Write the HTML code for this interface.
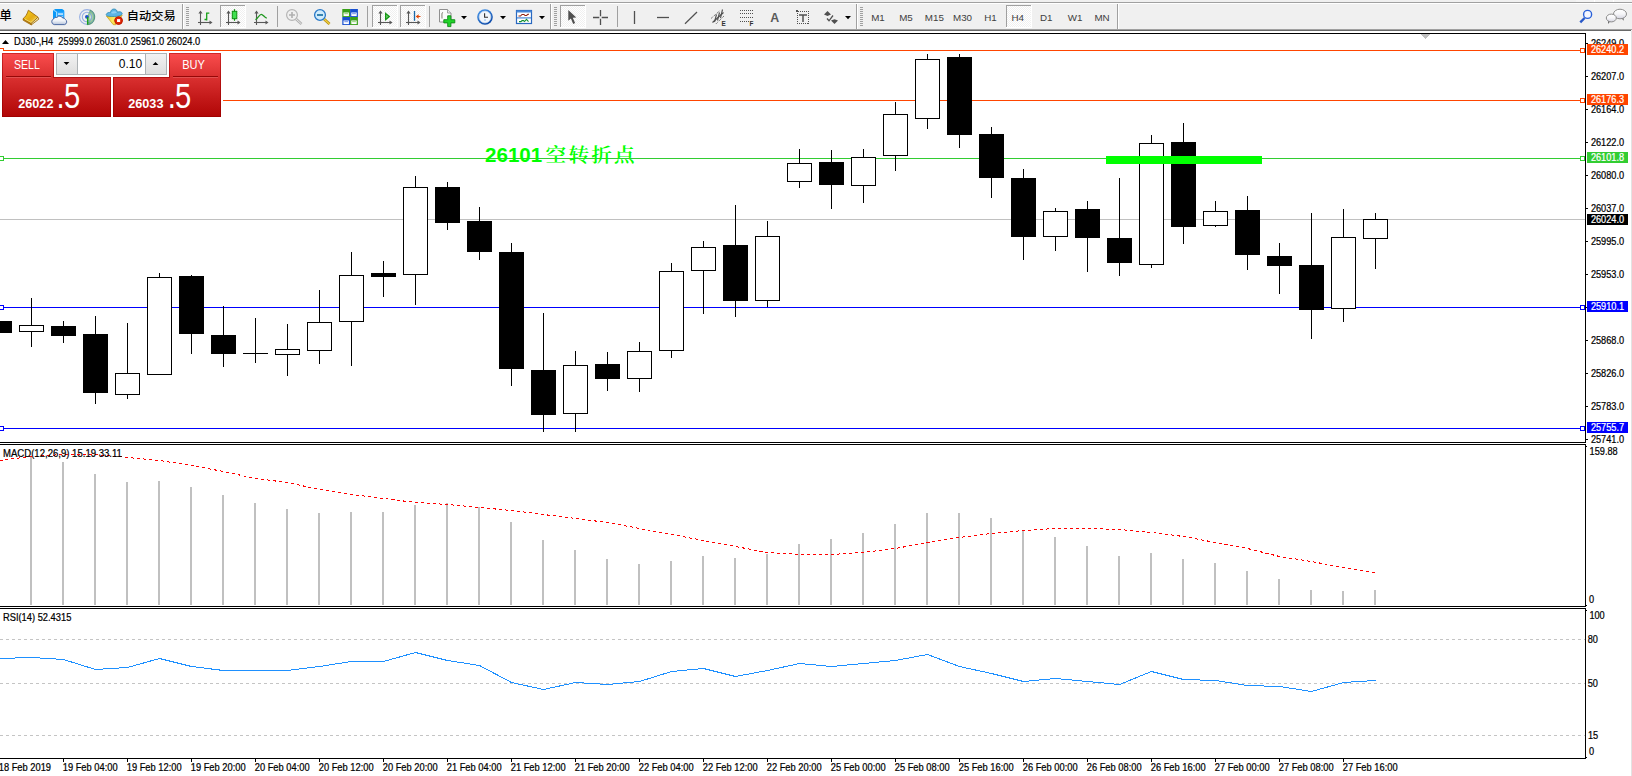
<!DOCTYPE html>
<html><head><meta charset="utf-8"><title>DJ30-,H4</title>
<style>
html,body{margin:0;padding:0;background:#fff}
body{width:1632px;height:776px;overflow:hidden;position:relative;font-family:"Liberation Sans","Noto Sans CJK SC",sans-serif}
svg{position:absolute;left:0;top:0;display:block}
text{font-family:"Liberation Sans","Noto Sans CJK SC",sans-serif;white-space:pre}
.ax{font-size:10.15px;fill:#000;stroke:#000;stroke-width:0.22px}
.axw{font-size:10.15px;fill:#fff;stroke:#fff;stroke-width:0.22px}
.tf{font-size:9.8px;fill:#404040}
.ic{shape-rendering:geometricPrecision}
</style></head><body>
<svg width="1632" height="776" viewBox="0 0 1632 776" shape-rendering="crispEdges">
<defs>
<pattern id="dither" width="2" height="2" patternUnits="userSpaceOnUse"><rect width="2" height="2" fill="#ffffff"/><rect width="1" height="1" fill="#f0f0f0"/><rect x="1" y="1" width="1" height="1" fill="#f0f0f0"/></pattern>
</defs>
<rect x="0" y="0" width="1632" height="776" fill="#ffffff" />
<g id="main">
<rect x="0" y="50" width="1585" height="1" fill="#ff4500" />
<rect x="0" y="100" width="1585" height="1" fill="#ff4500" />
<rect x="0" y="158" width="1585" height="1" fill="#32cd32" />
<rect x="0" y="219" width="1585" height="1" fill="#c0c0c0" />
<rect x="0" y="307" width="1585" height="1" fill="#0000ff" />
<rect x="0" y="428" width="1585" height="1" fill="#0000ff" />
<rect x="-13" y="321" width="25" height="12" fill="#000" />
<rect x="31" y="298" width="1" height="49" fill="#000" />
<rect x="19" y="325" width="25" height="7" fill="#000" />
<rect x="20" y="326" width="23" height="5" fill="#fff" />
<rect x="63" y="321" width="1" height="22" fill="#000" />
<rect x="51" y="326" width="25" height="10" fill="#000" />
<rect x="95" y="316" width="1" height="88" fill="#000" />
<rect x="83" y="334" width="25" height="59" fill="#000" />
<rect x="127" y="323" width="1" height="76" fill="#000" />
<rect x="115" y="373" width="25" height="22" fill="#000" />
<rect x="116" y="374" width="23" height="20" fill="#fff" />
<rect x="159" y="273" width="1" height="102" fill="#000" />
<rect x="147" y="277" width="25" height="98" fill="#000" />
<rect x="148" y="278" width="23" height="96" fill="#fff" />
<rect x="191" y="275" width="1" height="79" fill="#000" />
<rect x="179" y="276" width="25" height="58" fill="#000" />
<rect x="223" y="306" width="1" height="61" fill="#000" />
<rect x="211" y="335" width="25" height="19" fill="#000" />
<rect x="255" y="318" width="1" height="45" fill="#000" />
<rect x="243" y="353" width="25" height="1" fill="#000" />
<rect x="287" y="324" width="1" height="52" fill="#000" />
<rect x="275" y="349" width="25" height="6" fill="#000" />
<rect x="276" y="350" width="23" height="4" fill="#fff" />
<rect x="319" y="290" width="1" height="74" fill="#000" />
<rect x="307" y="322" width="25" height="29" fill="#000" />
<rect x="308" y="323" width="23" height="27" fill="#fff" />
<rect x="351" y="252" width="1" height="114" fill="#000" />
<rect x="339" y="275" width="25" height="47" fill="#000" />
<rect x="340" y="276" width="23" height="45" fill="#fff" />
<rect x="383" y="261" width="1" height="36" fill="#000" />
<rect x="371" y="273" width="25" height="4" fill="#000" />
<rect x="415" y="176" width="1" height="129" fill="#000" />
<rect x="403" y="187" width="25" height="88" fill="#000" />
<rect x="404" y="188" width="23" height="86" fill="#fff" />
<rect x="447" y="182" width="1" height="48" fill="#000" />
<rect x="435" y="187" width="25" height="36" fill="#000" />
<rect x="479" y="207" width="1" height="53" fill="#000" />
<rect x="467" y="221" width="25" height="31" fill="#000" />
<rect x="511" y="243" width="1" height="143" fill="#000" />
<rect x="499" y="252" width="25" height="117" fill="#000" />
<rect x="543" y="313" width="1" height="119" fill="#000" />
<rect x="531" y="370" width="25" height="45" fill="#000" />
<rect x="575" y="351" width="1" height="81" fill="#000" />
<rect x="563" y="365" width="25" height="49" fill="#000" />
<rect x="564" y="366" width="23" height="47" fill="#fff" />
<rect x="607" y="352" width="1" height="39" fill="#000" />
<rect x="595" y="364" width="25" height="15" fill="#000" />
<rect x="639" y="342" width="1" height="50" fill="#000" />
<rect x="627" y="351" width="25" height="28" fill="#000" />
<rect x="628" y="352" width="23" height="26" fill="#fff" />
<rect x="671" y="263" width="1" height="95" fill="#000" />
<rect x="659" y="271" width="25" height="80" fill="#000" />
<rect x="660" y="272" width="23" height="78" fill="#fff" />
<rect x="703" y="241" width="1" height="73" fill="#000" />
<rect x="691" y="247" width="25" height="24" fill="#000" />
<rect x="692" y="248" width="23" height="22" fill="#fff" />
<rect x="735" y="205" width="1" height="112" fill="#000" />
<rect x="723" y="245" width="25" height="56" fill="#000" />
<rect x="767" y="221" width="1" height="86" fill="#000" />
<rect x="755" y="236" width="25" height="65" fill="#000" />
<rect x="756" y="237" width="23" height="63" fill="#fff" />
<rect x="799" y="149" width="1" height="39" fill="#000" />
<rect x="787" y="163" width="25" height="19" fill="#000" />
<rect x="788" y="164" width="23" height="17" fill="#fff" />
<rect x="831" y="150" width="1" height="59" fill="#000" />
<rect x="819" y="162" width="25" height="23" fill="#000" />
<rect x="863" y="149" width="1" height="54" fill="#000" />
<rect x="851" y="157" width="25" height="29" fill="#000" />
<rect x="852" y="158" width="23" height="27" fill="#fff" />
<rect x="895" y="102" width="1" height="69" fill="#000" />
<rect x="883" y="114" width="25" height="42" fill="#000" />
<rect x="884" y="115" width="23" height="40" fill="#fff" />
<rect x="927" y="54" width="1" height="75" fill="#000" />
<rect x="915" y="59" width="25" height="60" fill="#000" />
<rect x="916" y="60" width="23" height="58" fill="#fff" />
<rect x="959" y="54" width="1" height="94" fill="#000" />
<rect x="947" y="57" width="25" height="78" fill="#000" />
<rect x="991" y="127" width="1" height="71" fill="#000" />
<rect x="979" y="134" width="25" height="44" fill="#000" />
<rect x="1023" y="169" width="1" height="91" fill="#000" />
<rect x="1011" y="178" width="25" height="59" fill="#000" />
<rect x="1055" y="208" width="1" height="43" fill="#000" />
<rect x="1043" y="211" width="25" height="26" fill="#000" />
<rect x="1044" y="212" width="23" height="24" fill="#fff" />
<rect x="1087" y="201" width="1" height="71" fill="#000" />
<rect x="1075" y="209" width="25" height="29" fill="#000" />
<rect x="1119" y="178" width="1" height="98" fill="#000" />
<rect x="1107" y="238" width="25" height="25" fill="#000" />
<rect x="1151" y="135" width="1" height="133" fill="#000" />
<rect x="1139" y="143" width="25" height="122" fill="#000" />
<rect x="1140" y="144" width="23" height="120" fill="#fff" />
<rect x="1183" y="123" width="1" height="121" fill="#000" />
<rect x="1171" y="142" width="25" height="85" fill="#000" />
<rect x="1215" y="201" width="1" height="26" fill="#000" />
<rect x="1203" y="211" width="25" height="15" fill="#000" />
<rect x="1204" y="212" width="23" height="13" fill="#fff" />
<rect x="1247" y="196" width="1" height="74" fill="#000" />
<rect x="1235" y="210" width="25" height="45" fill="#000" />
<rect x="1279" y="243" width="1" height="51" fill="#000" />
<rect x="1267" y="256" width="25" height="10" fill="#000" />
<rect x="1311" y="213" width="1" height="126" fill="#000" />
<rect x="1299" y="265" width="25" height="45" fill="#000" />
<rect x="1343" y="209" width="1" height="113" fill="#000" />
<rect x="1331" y="237" width="25" height="72" fill="#000" />
<rect x="1332" y="238" width="23" height="70" fill="#fff" />
<rect x="1375" y="213" width="1" height="56" fill="#000" />
<rect x="1363" y="219" width="25" height="20" fill="#000" />
<rect x="1364" y="220" width="23" height="18" fill="#fff" />
<rect x="1106" y="156" width="156" height="8" fill="#00ff00" />
<rect x="-0.5" y="48.5" width="4" height="4" fill="#fff" stroke="#ff4500" stroke-width="1"/>
<rect x="1580.5" y="48.5" width="4" height="4" fill="#fff" stroke="#ff4500" stroke-width="1"/>
<rect x="-0.5" y="98.5" width="4" height="4" fill="#fff" stroke="#ff4500" stroke-width="1"/>
<rect x="1580.5" y="98.5" width="4" height="4" fill="#fff" stroke="#ff4500" stroke-width="1"/>
<rect x="-0.5" y="156.5" width="4" height="4" fill="#fff" stroke="#32cd32" stroke-width="1"/>
<rect x="1580.5" y="156.5" width="4" height="4" fill="#fff" stroke="#32cd32" stroke-width="1"/>
<rect x="-0.5" y="305.5" width="4" height="4" fill="#fff" stroke="#0000ff" stroke-width="1"/>
<rect x="1580.5" y="305.5" width="4" height="4" fill="#fff" stroke="#0000ff" stroke-width="1"/>
<rect x="-0.5" y="426.5" width="4" height="4" fill="#fff" stroke="#0000ff" stroke-width="1"/>
<rect x="1580.5" y="426.5" width="4" height="4" fill="#fff" stroke="#0000ff" stroke-width="1"/>
<text x="485" y="162" font-size="20.6px" font-weight="bold" fill="#00ff00">26101</text>
<text transform="translate(545.6 162.3) scale(1.034 0.955)" font-size="20px" font-weight="600" letter-spacing="2.1px" fill="#00ff00" style="font-family:'Noto Serif CJK SC','Liberation Serif',serif">空转折点</text>
</g>
<g id="macd">
<rect x="30" y="457" width="2" height="148" fill="#c0c0c0" />
<rect x="62" y="462" width="2" height="143" fill="#c0c0c0" />
<rect x="94" y="474" width="2" height="131" fill="#c0c0c0" />
<rect x="126" y="482" width="2" height="123" fill="#c0c0c0" />
<rect x="158" y="481" width="2" height="124" fill="#c0c0c0" />
<rect x="190" y="487" width="2" height="118" fill="#c0c0c0" />
<rect x="222" y="495" width="2" height="110" fill="#c0c0c0" />
<rect x="254" y="503" width="2" height="102" fill="#c0c0c0" />
<rect x="286" y="509" width="2" height="96" fill="#c0c0c0" />
<rect x="318" y="513" width="2" height="92" fill="#c0c0c0" />
<rect x="350" y="512" width="2" height="93" fill="#c0c0c0" />
<rect x="382" y="512" width="2" height="93" fill="#c0c0c0" />
<rect x="414" y="505" width="2" height="100" fill="#c0c0c0" />
<rect x="446" y="503" width="2" height="102" fill="#c0c0c0" />
<rect x="478" y="507" width="2" height="98" fill="#c0c0c0" />
<rect x="510" y="522" width="2" height="83" fill="#c0c0c0" />
<rect x="542" y="540" width="2" height="65" fill="#c0c0c0" />
<rect x="574" y="550" width="2" height="55" fill="#c0c0c0" />
<rect x="606" y="559" width="2" height="46" fill="#c0c0c0" />
<rect x="638" y="564" width="2" height="41" fill="#c0c0c0" />
<rect x="670" y="561" width="2" height="44" fill="#c0c0c0" />
<rect x="702" y="556" width="2" height="49" fill="#c0c0c0" />
<rect x="734" y="558" width="2" height="47" fill="#c0c0c0" />
<rect x="766" y="554" width="2" height="51" fill="#c0c0c0" />
<rect x="798" y="544" width="2" height="61" fill="#c0c0c0" />
<rect x="830" y="539" width="2" height="66" fill="#c0c0c0" />
<rect x="862" y="533" width="2" height="72" fill="#c0c0c0" />
<rect x="894" y="524" width="2" height="81" fill="#c0c0c0" />
<rect x="926" y="513" width="2" height="92" fill="#c0c0c0" />
<rect x="958" y="513" width="2" height="92" fill="#c0c0c0" />
<rect x="990" y="518" width="2" height="87" fill="#c0c0c0" />
<rect x="1022" y="530" width="2" height="75" fill="#c0c0c0" />
<rect x="1054" y="537" width="2" height="68" fill="#c0c0c0" />
<rect x="1086" y="546" width="2" height="59" fill="#c0c0c0" />
<rect x="1118" y="556" width="2" height="49" fill="#c0c0c0" />
<rect x="1150" y="553" width="2" height="52" fill="#c0c0c0" />
<rect x="1182" y="559" width="2" height="46" fill="#c0c0c0" />
<rect x="1214" y="563" width="2" height="42" fill="#c0c0c0" />
<rect x="1246" y="571" width="2" height="34" fill="#c0c0c0" />
<rect x="1278" y="579" width="2" height="26" fill="#c0c0c0" />
<rect x="1310" y="590" width="2" height="15" fill="#c0c0c0" />
<rect x="1342" y="591" width="2" height="14" fill="#c0c0c0" />
<rect x="1374" y="590" width="2" height="15" fill="#c0c0c0" />
<polyline points="-0.5,460.5 31.5,456.5 63.5,454.5 95.5,454.5 127.5,457.5 159.5,460.5 191.5,465.5 223.5,471.5 255.5,478.5 287.5,482.5 319.5,489.5 351.5,494.5 383.5,498.5 415.5,502.5 447.5,504.5 479.5,507.5 511.5,510.5 543.5,514.5 575.5,518.5 607.5,522.5 639.5,528.5 671.5,534.5 703.5,540.5 735.5,546.5 767.5,552.5 799.5,554.5 831.5,554.5 863.5,552.5 895.5,548.5 927.5,542.5 959.5,537.5 991.5,533.5 1023.5,530.5 1055.5,528.5 1087.5,528.5 1119.5,529.5 1151.5,532.5 1183.5,536.5 1215.5,542.5 1247.5,548.5 1279.5,556.5 1311.5,561.5 1343.5,567.5 1375.5,572.5" fill="none" stroke="#ff0000" stroke-width="1" stroke-dasharray="3 3" shape-rendering="crispEdges"/>
</g>
<g id="rsi">
<line x1="0" y1="639.5" x2="1585" y2="639.5" stroke="#c4c4c4" stroke-width="1" stroke-dasharray="3 3"/>
<line x1="0" y1="683.5" x2="1585" y2="683.5" stroke="#c4c4c4" stroke-width="1" stroke-dasharray="3 3"/>
<line x1="0" y1="735.5" x2="1585" y2="735.5" stroke="#c4c4c4" stroke-width="1" stroke-dasharray="3 3"/>
<polyline points="-0.5,658.5 31.5,657.5 63.5,659.5 95.5,669.5 127.5,667.5 159.5,658.5 191.5,666.5 223.5,670.5 255.5,670.5 287.5,670.5 319.5,666.5 351.5,661.5 383.5,661.5 415.5,652.5 447.5,660.5 479.5,665.5 511.5,682.5 543.5,689.5 575.5,682.5 607.5,684.5 639.5,681.5 671.5,671.5 703.5,668.5 735.5,676.5 767.5,670.5 799.5,663.5 831.5,666.5 863.5,663.5 895.5,660.5 927.5,654.5 959.5,666.5 991.5,673.5 1023.5,681.5 1055.5,678.5 1087.5,681.5 1119.5,684.5 1151.5,671.5 1183.5,679.5 1215.5,680.5 1247.5,685.5 1279.5,686.5 1311.5,691.5 1343.5,682.5 1375.5,680.5" fill="none" stroke="#1e90ff" stroke-width="1" shape-rendering="crispEdges"/>
</g>
<rect x="0" y="33" width="1586" height="1" fill="#000" />
<rect x="1585" y="33" width="1" height="726" fill="#000" />
<rect x="0" y="442" width="1586" height="1" fill="#000" />
<rect x="0" y="444" width="1586" height="1" fill="#000" />
<rect x="0" y="606" width="1586" height="1" fill="#000" />
<rect x="0" y="608" width="1586" height="1" fill="#000" />
<rect x="0" y="758" width="1586" height="1" fill="#000" />
<rect x="0" y="443" width="1632" height="1" fill="#fff" />
<rect x="0" y="607" width="1632" height="1" fill="#fff" />
<rect x="1585" y="443" width="1" height="1" fill="#fff" />
<rect x="1585" y="607" width="1" height="1" fill="#fff" />
<rect x="1586" y="43" width="2" height="1" fill="#000" />
<text class="ax" transform="translate(1590.9 47.2) scale(0.905 1)">26249.0</text>
<rect x="1586" y="76" width="2" height="1" fill="#000" />
<text class="ax" transform="translate(1590.9 80.2) scale(0.905 1)">26207.0</text>
<rect x="1586" y="109" width="2" height="1" fill="#000" />
<text class="ax" transform="translate(1590.9 113.2) scale(0.905 1)">26164.0</text>
<rect x="1586" y="142" width="2" height="1" fill="#000" />
<text class="ax" transform="translate(1590.9 146.2) scale(0.905 1)">26122.0</text>
<rect x="1586" y="175" width="2" height="1" fill="#000" />
<text class="ax" transform="translate(1590.9 179.2) scale(0.905 1)">26080.0</text>
<rect x="1586" y="208" width="2" height="1" fill="#000" />
<text class="ax" transform="translate(1590.9 212.2) scale(0.905 1)">26037.0</text>
<rect x="1586" y="241" width="2" height="1" fill="#000" />
<text class="ax" transform="translate(1590.9 245.2) scale(0.905 1)">25995.0</text>
<rect x="1586" y="274" width="2" height="1" fill="#000" />
<text class="ax" transform="translate(1590.9 278.2) scale(0.905 1)">25953.0</text>
<rect x="1586" y="307" width="2" height="1" fill="#000" />
<text class="ax" transform="translate(1590.9 311.2) scale(0.905 1)">25910.0</text>
<rect x="1586" y="340" width="2" height="1" fill="#000" />
<text class="ax" transform="translate(1590.9 344.2) scale(0.905 1)">25868.0</text>
<rect x="1586" y="373" width="2" height="1" fill="#000" />
<text class="ax" transform="translate(1590.9 377.2) scale(0.905 1)">25826.0</text>
<rect x="1586" y="406" width="2" height="1" fill="#000" />
<text class="ax" transform="translate(1590.9 410.2) scale(0.905 1)">25783.0</text>
<rect x="1586" y="439" width="2" height="1" fill="#000" />
<text class="ax" transform="translate(1590.9 443.2) scale(0.905 1)">25741.0</text>
<rect x="1587" y="44" width="41" height="11" fill="#ff4500" />
<text class="axw" transform="translate(1590.9 53.2) scale(0.905 1)">26240.2</text>
<rect x="1587" y="94" width="41" height="11" fill="#ff4500" />
<text class="axw" transform="translate(1590.9 103.2) scale(0.905 1)">26176.3</text>
<rect x="1587" y="152" width="41" height="11" fill="#32cd32" />
<text class="axw" transform="translate(1590.9 161.2) scale(0.905 1)">26101.8</text>
<rect x="1587" y="301" width="41" height="11" fill="#0000ff" />
<text class="axw" transform="translate(1590.9 310.2) scale(0.905 1)">25910.1</text>
<rect x="1587" y="422" width="41" height="11" fill="#0000ff" />
<text class="axw" transform="translate(1590.9 431.2) scale(0.905 1)">25755.7</text>
<rect x="1587" y="214" width="41" height="11" fill="#000" />
<text class="axw" transform="translate(1590.9 223.2) scale(0.905 1)">26024.0</text>
<rect x="1586" y="446" width="1" height="1" fill="#000" />
<rect x="1586" y="605" width="1" height="1" fill="#000" />
<rect x="1586" y="610" width="1" height="1" fill="#000" />
<rect x="1586" y="757" width="1" height="1" fill="#000" />
<text class="ax" transform="translate(1589.6 455) scale(0.905 1)">159.88</text>
<text class="ax" transform="translate(1589.1 603.1) scale(0.905 1)">0</text>
<text class="ax" transform="translate(1589.4 619.0) scale(0.905 1)">100</text>
<text class="ax" transform="translate(1587.7 643.0) scale(0.905 1)">80</text>
<text class="ax" transform="translate(1587.7 687.0) scale(0.905 1)">50</text>
<text class="ax" transform="translate(1587.9 739.0) scale(0.905 1)">15</text>
<text class="ax" transform="translate(1589.1 755.0) scale(0.905 1)">0</text>
<rect x="-1" y="759" width="1" height="3" fill="#000" />
<text class="ax" transform="translate(-1.3 771) scale(0.918 1)">18 Feb 2019</text>
<rect x="63" y="759" width="1" height="3" fill="#000" />
<text class="ax" transform="translate(62.7 771) scale(0.918 1)">19 Feb 04:00</text>
<rect x="127" y="759" width="1" height="3" fill="#000" />
<text class="ax" transform="translate(126.7 771) scale(0.918 1)">19 Feb 12:00</text>
<rect x="191" y="759" width="1" height="3" fill="#000" />
<text class="ax" transform="translate(190.7 771) scale(0.918 1)">19 Feb 20:00</text>
<rect x="255" y="759" width="1" height="3" fill="#000" />
<text class="ax" transform="translate(254.7 771) scale(0.918 1)">20 Feb 04:00</text>
<rect x="319" y="759" width="1" height="3" fill="#000" />
<text class="ax" transform="translate(318.7 771) scale(0.918 1)">20 Feb 12:00</text>
<rect x="383" y="759" width="1" height="3" fill="#000" />
<text class="ax" transform="translate(382.7 771) scale(0.918 1)">20 Feb 20:00</text>
<rect x="447" y="759" width="1" height="3" fill="#000" />
<text class="ax" transform="translate(446.7 771) scale(0.918 1)">21 Feb 04:00</text>
<rect x="511" y="759" width="1" height="3" fill="#000" />
<text class="ax" transform="translate(510.7 771) scale(0.918 1)">21 Feb 12:00</text>
<rect x="575" y="759" width="1" height="3" fill="#000" />
<text class="ax" transform="translate(574.7 771) scale(0.918 1)">21 Feb 20:00</text>
<rect x="639" y="759" width="1" height="3" fill="#000" />
<text class="ax" transform="translate(638.7 771) scale(0.918 1)">22 Feb 04:00</text>
<rect x="703" y="759" width="1" height="3" fill="#000" />
<text class="ax" transform="translate(702.7 771) scale(0.918 1)">22 Feb 12:00</text>
<rect x="767" y="759" width="1" height="3" fill="#000" />
<text class="ax" transform="translate(766.7 771) scale(0.918 1)">22 Feb 20:00</text>
<rect x="831" y="759" width="1" height="3" fill="#000" />
<text class="ax" transform="translate(830.7 771) scale(0.918 1)">25 Feb 00:00</text>
<rect x="895" y="759" width="1" height="3" fill="#000" />
<text class="ax" transform="translate(894.7 771) scale(0.918 1)">25 Feb 08:00</text>
<rect x="959" y="759" width="1" height="3" fill="#000" />
<text class="ax" transform="translate(958.7 771) scale(0.918 1)">25 Feb 16:00</text>
<rect x="1023" y="759" width="1" height="3" fill="#000" />
<text class="ax" transform="translate(1022.7 771) scale(0.918 1)">26 Feb 00:00</text>
<rect x="1087" y="759" width="1" height="3" fill="#000" />
<text class="ax" transform="translate(1086.7 771) scale(0.918 1)">26 Feb 08:00</text>
<rect x="1151" y="759" width="1" height="3" fill="#000" />
<text class="ax" transform="translate(1150.7 771) scale(0.918 1)">26 Feb 16:00</text>
<rect x="1215" y="759" width="1" height="3" fill="#000" />
<text class="ax" transform="translate(1214.7 771) scale(0.918 1)">27 Feb 00:00</text>
<rect x="1279" y="759" width="1" height="3" fill="#000" />
<text class="ax" transform="translate(1278.7 771) scale(0.918 1)">27 Feb 08:00</text>
<rect x="1343" y="759" width="1" height="3" fill="#000" />
<text class="ax" transform="translate(1342.7 771) scale(0.918 1)">27 Feb 16:00</text>
<rect x="1421" y="34" width="9" height="1" fill="#c0c0c0" />
<rect x="1422" y="35" width="7" height="1" fill="#c0c0c0" />
<rect x="1423" y="36" width="5" height="1" fill="#c0c0c0" />
<rect x="1424" y="37" width="3" height="1" fill="#c0c0c0" />
<rect x="1425" y="38" width="1" height="1" fill="#c0c0c0" />
<path d="M2 44 L5.5 40 L9 44 Z" fill="#000" class="ic"/>
<text class="ax" transform="translate(14.0 45) scale(0.915 1)">DJ30-,H4  25999.0 26031.0 25961.0 26024.0</text>
<text class="ax" transform="translate(3.0 457) scale(0.943 1)">MACD(12,26,9) 15.19 33.11</text>
<text class="ax" transform="translate(3.0 621) scale(0.918 1)">RSI(14) 52.4315</text>
<g id="panel">
<rect x="0" y="51" width="223" height="67" fill="#fff" />
<rect x="0" y="48" width="4" height="1" fill="#ff4500" />
<rect x="3" y="48" width="1" height="3" fill="#ff4500" />
<linearGradient id="rg2" gradientUnits="userSpaceOnUse" x1="0" y1="53" x2="0" y2="117"><stop offset="0" stop-color="#fa4e4e"/><stop offset="0.38" stop-color="#da3030"/><stop offset="0.75" stop-color="#c01616"/><stop offset="1" stop-color="#b00606"/></linearGradient>
<linearGradient id="rb2" gradientUnits="userSpaceOnUse" x1="0" y1="53" x2="0" y2="117"><stop offset="0" stop-color="#d02828"/><stop offset="0.4" stop-color="#b41010"/><stop offset="1" stop-color="#a00000"/></linearGradient>
<path d="M2.5 53.5 H53.5 V77.5 H110.5 V116.5 H2.5 Z" fill="url(#rg2)" stroke="url(#rb2)" stroke-width="1"/>
<path d="M113.5 77.5 H169.5 V53.5 H220.5 V116.5 H113.5 Z" fill="url(#rg2)" stroke="url(#rb2)" stroke-width="1"/>
<rect x="6" y="76" width="45" height="1" fill="#960808" />
<rect x="6" y="77" width="45" height="1" fill="#e25050" />
<rect x="173" y="76" width="45" height="1" fill="#960808" />
<rect x="173" y="77" width="45" height="1" fill="#e25050" />
<text transform="translate(14.0 69) scale(0.86 1)" font-size="12.3px" fill="#fff">SELL</text>
<text transform="translate(182.2 69) scale(0.9 1)" font-size="12.3px" fill="#fff">BUY</text>
<text x="18.2" y="107.8" font-size="12.7px" font-weight="bold" fill="#fff">26022</text>
<text x="128.2" y="107.8" font-size="12.7px" font-weight="bold" fill="#fff">26033</text>
<text transform="translate(56.6,107.8) scale(0.84,1)" font-size="34.8px" fill="#fff" letter-spacing="-1px">.5</text>
<text transform="translate(167.8,107.8) scale(0.84,1)" font-size="34.8px" fill="#fff" letter-spacing="-1px">.5</text>
<linearGradient id="bg3" x1="0" y1="0" x2="0" y2="1"><stop offset="0" stop-color="#f2f2f2"/><stop offset="1" stop-color="#dedede"/></linearGradient>
<rect x="56" y="53" width="111" height="22" fill="#adb2b5" />
<rect x="57" y="54" width="109" height="20" fill="#fff" />
<rect x="57" y="54" width="20" height="20" fill="url(#bg3)" />
<rect x="77" y="54" width="1" height="20" fill="#adb2b5" />
<rect x="146" y="54" width="20" height="20" fill="url(#bg3)" />
<rect x="145" y="54" width="1" height="20" fill="#adb2b5" />
<path class="ic" d="M63.6 62 h5.8 l-2.9 3.1 z" fill="#000"/>
<path class="ic" d="M152.6 65.1 h5.8 l-2.9 -3.1 z" fill="#000"/>
<text x="142.2" y="68" font-size="12px" fill="#000" text-anchor="end">0.10</text>
</g>
<g id="toolbar">
<rect x="0" y="0" width="1632" height="33" fill="#f0f0f0" />
<rect x="0" y="2" width="1632" height="1" fill="#a0a0a0" />
<rect x="0" y="3" width="1632" height="1" fill="#ffffff" />
<rect x="1576" y="0" width="56" height="2" fill="#f4f4f4" />
<rect x="1594" y="0" width="1" height="2" fill="#ffffff" />
<rect x="1613" y="0" width="1" height="2" fill="#ffffff" />
<rect x="0" y="29" width="1632" height="1" fill="#a0a0a0" />
<rect x="0" y="30" width="1631" height="1" fill="#696969" />
<rect x="1631" y="30" width="1" height="1" fill="#f4f4f4" />
<rect x="0" y="31" width="1632" height="2" fill="#ffffff" />
<rect x="1631" y="31" width="1" height="745" fill="#e3e3e3" />
<text x="-0.6" y="20.4" font-size="12.2px" font-weight="500" fill="#000">单</text>
<g class="ic"><defs><linearGradient id="bkg" x1="0" y1="0" x2="1" y2="1"><stop offset="0" stop-color="#fbd820"/><stop offset="0.55" stop-color="#e4ac14"/><stop offset="1" stop-color="#f4d458"/></linearGradient></defs><path d="M31 23.3 L37.9 17.1 L38.9 19.1 L31.3 24.9 Z" fill="#e8dca0" stroke="#9a6408" stroke-width="0.8"/><path d="M23 18.7 L31 23.3 L31.3 24.9 L23.2 20.3 Z" fill="#c48810" stroke="#9a6408" stroke-width="0.7"/><path d="M28.4 10.2 L37.9 17.1 L31 23.3 L23 18.7 C25.6 17 27.2 14 28.4 10.2 Z" fill="url(#bkg)" stroke="#a06a0a" stroke-width="0.9"/><path d="M24.6 19 L31 22.4 L36.6 17.3" stroke="#f8e078" stroke-width="0.8" fill="none"/></g>
<g class="ic"><defs><linearGradient id="cldg" x1="0" y1="0" x2="0" y2="1"><stop offset="0" stop-color="#ffffff"/><stop offset="0.55" stop-color="#f0f3f8"/><stop offset="1" stop-color="#b4c2da"/></linearGradient></defs><path d="M53 10.2 L55.4 9 H62.2 L64.2 10.6 V19 H53 Z" fill="#0a98f8"/><path d="M56.6 11.6 H64.2 V19 H56.6 Z" fill="#2aa8ff"/><path d="M53.4 10.2 L56.6 11.8 V19" stroke="#d8f0ff" stroke-width="0.8" fill="none"/><rect x="58" y="13.4" width="5" height="1.3" fill="#e8f6ff"/><rect x="58" y="16" width="5" height="0.9" fill="#9cd4ff"/><path d="M54.2 24.6 a3 3 0 0 1 -0.4 -5.8 a2.6 2.6 0 0 1 3.2 -1.4 a3.3 3.3 0 0 1 5.6 0.6 a2.4 2.4 0 0 1 2.6 1.4 a2.8 2.8 0 0 1 -0.6 5.2 z" fill="url(#cldg)" stroke="#3c5c9c" stroke-width="0.9"/></g>
<g class="ic" fill="none"><defs><radialGradient id="sgg" cx="0.5" cy="0.5" r="0.5"><stop offset="0" stop-color="#40a840" stop-opacity="0.1"/><stop offset="1" stop-color="#40a840" stop-opacity="0.85"/></radialGradient></defs><path d="M87 17 L90 10 A7.6 7.6 0 0 1 87.4 24.6 Z" fill="url(#sgg)" stroke="none"/><circle cx="87" cy="17" r="7.4" stroke="#88a4e0" stroke-width="1.1" stroke-opacity="0.85"/><circle cx="87" cy="17" r="4.7" stroke="#7c9ce0" stroke-width="1.1" stroke-opacity="0.8"/><path d="M90 10 A7.6 7.6 0 0 1 87.4 24.6" stroke="#3c8c5c" stroke-width="1.1" stroke-opacity="0.7"/><circle cx="86.9" cy="16.8" r="1.9" fill="#2454c8"/><path d="M87.6 17 V24.7" stroke="#18a018" stroke-width="1.3"/></g>
<g class="ic"><defs><linearGradient id="cng" x1="0" y1="0" x2="1" y2="0.3"><stop offset="0" stop-color="#f0c020"/><stop offset="0.5" stop-color="#fbe860"/><stop offset="1" stop-color="#f0c828"/></linearGradient></defs><path d="M106.4 16 L122.2 15.2 L115.6 24.8 L113.2 24.6 Z" fill="url(#cng)" stroke="#c89a10" stroke-width="0.7"/><path d="M106.2 14.6 C106.6 12.6 109.4 12.2 110.4 12.6 C110.8 10 112.4 9 114 9 C115.8 9 117 10.2 117.4 12.2 C119 11.4 121.8 11.6 122.2 13.4 C122.4 15.2 118.6 16.4 114.4 16.5 C110.2 16.6 106 16.4 106.2 14.6 Z" fill="#5cb4e4" stroke="#2a88b4" stroke-width="0.8"/><path d="M111 13 C112 11 115.6 10.6 116.8 12.6 C115 13.8 112.6 13.9 111 13 Z" fill="#8cd0f4"/><circle cx="118.6" cy="20.6" r="4.2" fill="#e02404"/><circle cx="118.6" cy="20.6" r="3.8" fill="none" stroke="#b41800" stroke-width="0.8"/><rect x="117.05" y="19.1" width="3.1" height="2.9" fill="#fff"/></g>
<text transform="translate(126.7 19.9) scale(1.065 1)" font-size="11.5px" font-weight="500" fill="#000">自动交易</text>
<rect x="182" y="4" width="1" height="25" fill="#a0a0a0" />
<rect x="183" y="4" width="1" height="25" fill="#ffffff" />
<rect x="186" y="7" width="3" height="1" fill="#a0a0a0" />
<rect x="186" y="9" width="3" height="1" fill="#a0a0a0" />
<rect x="186" y="11" width="3" height="1" fill="#a0a0a0" />
<rect x="186" y="13" width="3" height="1" fill="#a0a0a0" />
<rect x="186" y="15" width="3" height="1" fill="#a0a0a0" />
<rect x="186" y="17" width="3" height="1" fill="#a0a0a0" />
<rect x="186" y="19" width="3" height="1" fill="#a0a0a0" />
<rect x="186" y="21" width="3" height="1" fill="#a0a0a0" />
<rect x="186" y="23" width="3" height="1" fill="#a0a0a0" />
<rect x="186" y="25" width="3" height="1" fill="#a0a0a0" />
<g class="ic" stroke="#585858" stroke-width="1.1" fill="none"><path d="M200.5 25 V12"/><path d="M198 22.5 H211"/></g>
<path class="ic" d="M200.5 10.5 l-2.1 3 h4.2 z M212.5 22.5 l-3 -2.1 v4.2 z" fill="#585858"/>
<path class="ic" d="M204.5 19.5 h2.5 M206.7 20.5 V12.5 M206.7 13.2 h2.6" stroke="#18a018" stroke-width="1.3" fill="none"/>
<rect x="221" y="6" width="24" height="21" fill="url(#dither)" />
<rect x="220" y="5" width="25" height="1" fill="#a0a0a0" />
<rect x="220" y="5" width="1" height="22" fill="#a0a0a0" />
<rect x="220" y="27" width="26" height="1" fill="#ffffff" />
<rect x="245" y="5" width="1" height="23" fill="#ffffff" />
<g class="ic" stroke="#585858" stroke-width="1.1" fill="none"><path d="M228.5 25 V12"/><path d="M226 22.5 H239"/></g>
<path class="ic" d="M228.5 10.5 l-2.1 3 h4.2 z M240.5 22.5 l-3 -2.1 v4.2 z" fill="#585858"/>
<g class="ic"><path d="M234.5 9.2 V20.8" stroke="#109010" stroke-width="1.2"/><rect x="232.3" y="11.3" width="4.5" height="7.4" fill="#40e050" stroke="#109010" stroke-width="1"/></g>
<g class="ic" stroke="#585858" stroke-width="1.1" fill="none"><path d="M256.5 25 V12"/><path d="M254 22.5 H267"/></g>
<path class="ic" d="M256.5 10.5 l-2.1 3 h4.2 z M268.5 22.5 l-3 -2.1 v4.2 z" fill="#585858"/>
<path class="ic" d="M255.5 19.8 C258 18 259.5 14.3 261.3 14.3 C263 14.3 264.5 17.6 266.8 18.2" stroke="#209820" stroke-width="1.3" fill="none"/>
<rect x="277" y="6" width="1" height="21" fill="#a0a0a0" />
<g class="ic" fill="none"><path d="M296 19 L301.5 24" stroke="#b0b0b0" stroke-width="2.6"/><path d="M296 19 L301.5 24" stroke="#e8e8e8" stroke-width="1"/><circle cx="292" cy="15" r="5.4" fill="#f0f0f0" stroke="#b4b4b4" stroke-width="1.2"/><path d="M289 15 h6 M292 12 v6" stroke="#b0b0b0" stroke-width="1.6"/></g>
<g class="ic" fill="none"><path d="M324 19 L329.5 24" stroke="#b08810" stroke-width="2.8"/><path d="M324 19 L329.5 24" stroke="#f0d040" stroke-width="1.3"/><circle cx="320" cy="15" r="5.4" fill="#d0ecfc" stroke="#2878c8" stroke-width="1.3"/><path d="M317 15 h6" stroke="#2878a8" stroke-width="1.8"/></g>
<g class="ic"><rect x="342.3" y="9" width="7.8" height="8" fill="#38a018"/><rect x="350.1" y="9" width="7.8" height="8" fill="#1850d0"/><rect x="342.3" y="17" width="7.8" height="8" fill="#1850d0"/><rect x="350.1" y="17" width="7.8" height="8" fill="#38a018"/><rect x="343.5" y="12.5" width="5.4" height="3.6" fill="#fff"/><rect x="351.3" y="12.5" width="5.4" height="3.6" fill="#fff"/><rect x="343.5" y="20.5" width="5.4" height="3.6" fill="#fff"/><rect x="351.3" y="20.5" width="5.4" height="3.6" fill="#fff"/><rect x="344.3" y="13.2" width="3.8" height="1" fill="#90d070"/><rect x="352.1" y="13.2" width="3.8" height="1" fill="#7090e8"/><rect x="344.3" y="21.2" width="3.8" height="1" fill="#7090e8"/><rect x="352.1" y="21.2" width="3.8" height="1" fill="#90d070"/></g>
<rect x="367" y="6" width="1" height="21" fill="#a0a0a0" />
<rect x="373" y="6" width="24" height="21" fill="url(#dither)" />
<rect x="372" y="5" width="25" height="1" fill="#a0a0a0" />
<rect x="372" y="5" width="1" height="22" fill="#a0a0a0" />
<rect x="372" y="27" width="26" height="1" fill="#ffffff" />
<rect x="397" y="5" width="1" height="23" fill="#ffffff" />
<g class="ic" stroke="#585858" stroke-width="1.1" fill="none"><path d="M380.5 25 V12"/><path d="M378 22.5 H391"/></g>
<path class="ic" d="M380.5 10.5 l-2.1 3 h4.2 z M392.5 22.5 l-3 -2.1 v4.2 z" fill="#585858"/>
<path class="ic" d="M385.6 13.3 L389.4 16.5 L385.6 19.7 Z" fill="#60d060" stroke="#109010" stroke-width="1.1"/>
<rect x="401" y="6" width="24" height="21" fill="url(#dither)" />
<rect x="400" y="5" width="25" height="1" fill="#a0a0a0" />
<rect x="400" y="5" width="1" height="22" fill="#a0a0a0" />
<rect x="400" y="27" width="26" height="1" fill="#ffffff" />
<rect x="425" y="5" width="1" height="23" fill="#ffffff" />
<g class="ic" stroke="#585858" stroke-width="1.1" fill="none"><path d="M408.5 25 V12"/><path d="M406 22.5 H419"/></g>
<path class="ic" d="M408.5 10.5 l-2.1 3 h4.2 z M420.5 22.5 l-3 -2.1 v4.2 z" fill="#585858"/>
<g class="ic"><path d="M414.5 11 V20.8" stroke="#1868a8" stroke-width="1.3"/><path d="M415.6 16.5 L418.6 14.2 V15.9 H420.5 V17.1 H418.6 V18.8 Z" fill="#e04808"/></g>
<rect x="429" y="6" width="1" height="21" fill="#a0a0a0" />
<g class="ic"><path d="M439.5 9.5 h8 l3.5 3.5 v9 h-11.5 z" fill="#fbfbfb" stroke="#909090" stroke-width="1"/><path d="M447.5 9.5 v3.5 h3.5" fill="#e8e8e8" stroke="#909090" stroke-width="0.8"/><path d="M443 12.5 c-1.5 0 -1 3 -1 6" stroke="#707060" stroke-width="1" fill="none"/><path d="M447.7 15.8 h3.2 v3.9 h3.9 v3.2 h-3.9 v3.7 h-3.2 v-3.7 h-3.9 v-3.2 h3.9 z" fill="#22d42a" stroke="#0e8a18" stroke-width="0.9"/></g>
<path d="M461 16 h6 l-3 3.2 z" fill="#000" class="ic"/>
<g class="ic"><defs><linearGradient id="ckg" x1="0" y1="0" x2="0.6" y2="1"><stop offset="0" stop-color="#4a9cf0"/><stop offset="1" stop-color="#0a48a8"/></linearGradient></defs><circle cx="485" cy="17" r="7.8" fill="url(#ckg)"/><circle cx="485" cy="17" r="5.9" fill="#f2f6fb"/><circle cx="485" cy="17" r="5.9" fill="none" stroke="#c8d8ec" stroke-width="0.8"/><path d="M484.6 13.2 V17.2 H488" stroke="#303030" stroke-width="1.1" fill="none"/><rect x="484.2" y="19.6" width="1.6" height="0.9" fill="#60a8f0"/></g>
<path d="M500 16 h6 l-3 3.2 z" fill="#000" class="ic"/>
<g class="ic"><rect x="516.5" y="10.5" width="15" height="13" fill="#fff" stroke="#2868c0" stroke-width="1.2"/><rect x="516.5" y="10.5" width="15" height="2" fill="#4888d8"/><rect x="517" y="17.3" width="14" height="1.2" fill="#4888d8"/><path d="M518.5 16 h2 l1.5 -1.5 h2 l1 1 h1.5 l1.5 -1.2 h1" stroke="#902010" stroke-width="1.05" fill="none"/><path d="M519 21.6 h2 l1 -1 h1.5 l1 1 l2 -2.2 l2 2.2" stroke="#109030" stroke-width="1.05" fill="none"/></g>
<path d="M539 16 h6 l-3 3.2 z" fill="#000" class="ic"/>
<rect x="550" y="4" width="1" height="25" fill="#a0a0a0" />
<rect x="551" y="4" width="1" height="25" fill="#ffffff" />
<rect x="554" y="7" width="3" height="1" fill="#a0a0a0" />
<rect x="554" y="9" width="3" height="1" fill="#a0a0a0" />
<rect x="554" y="11" width="3" height="1" fill="#a0a0a0" />
<rect x="554" y="13" width="3" height="1" fill="#a0a0a0" />
<rect x="554" y="15" width="3" height="1" fill="#a0a0a0" />
<rect x="554" y="17" width="3" height="1" fill="#a0a0a0" />
<rect x="554" y="19" width="3" height="1" fill="#a0a0a0" />
<rect x="554" y="21" width="3" height="1" fill="#a0a0a0" />
<rect x="554" y="23" width="3" height="1" fill="#a0a0a0" />
<rect x="554" y="25" width="3" height="1" fill="#a0a0a0" />
<rect x="561" y="6" width="24" height="21" fill="url(#dither)" />
<rect x="560" y="5" width="25" height="1" fill="#a0a0a0" />
<rect x="560" y="5" width="1" height="22" fill="#a0a0a0" />
<rect x="560" y="27" width="26" height="1" fill="#ffffff" />
<rect x="585" y="5" width="1" height="23" fill="#ffffff" />
<path class="ic" d="M568.3 10 V20.8 L570.9 18.4 L573.2 23.9 L575.1 23.1 L572.8 17.7 L576.3 17.5 Z" fill="#505050"/>
<path class="ic" d="M593 17.5 H599.3 M601.7 17.5 H608 M600.5 10 V16.3 M600.5 18.7 V25" stroke="#505050" stroke-width="1.3" fill="none"/>
<rect x="617" y="6" width="1" height="21" fill="#a0a0a0" />
<path class="ic" d="M634.5 11 V24" stroke="#505050" stroke-width="1.3"/>
<path class="ic" d="M657 17.5 H669" stroke="#505050" stroke-width="1.3"/>
<path class="ic" d="M685 23.7 L697 12" stroke="#505050" stroke-width="1.2"/>
<g class="ic" stroke="#505050" fill="none"><path d="M711 18.5 L719.5 11" stroke-width="1" stroke-dasharray="1 1"/><path d="M716 23.8 L724.5 15.5" stroke-width="1" stroke-dasharray="1 1"/><path d="M712.5 22.5 L723.5 12.5" stroke-width="1.2"/><path d="M714.5 22 L716.5 14.5 M717.5 20.5 L719.5 12.5 M720.5 18 L722.5 9.5" stroke-width="1.1"/></g>
<text x="721.6" y="25.7" font-size="6.4px" font-weight="bold" fill="#303030">E</text>
<path d="M740 10.5 H753" stroke="#505050" stroke-width="1" stroke-dasharray="1 1" fill="none"/>
<path d="M740 13.5 H753" stroke="#505050" stroke-width="1" stroke-dasharray="1 1" fill="none"/>
<path d="M740 17.5 H753" stroke="#505050" stroke-width="1" stroke-dasharray="1 1" fill="none"/>
<path d="M740 21.5 H749" stroke="#505050" stroke-width="1" stroke-dasharray="1 1" fill="none"/>
<text x="749.6" y="25.7" font-size="6.4px" font-weight="bold" fill="#303030">F</text>
<text x="770.3" y="22" font-size="12.4px" font-weight="bold" fill="#5a5a5a">A</text>
<rect x="797.5" y="11.5" width="11" height="12" fill="none" stroke="#505050" stroke-width="1" stroke-dasharray="1 1"/>
<rect x="796" y="10" width="2" height="2" fill="#505050"/>
<path class="ic" d="M799 15 H807 M803 15 V22" stroke="#505050" stroke-width="1.5" fill="none"/>
<g class="ic" fill="#505050"><path d="M827.5 11 L831 14.6 L827.5 16 L824 14.6 Z"/><path d="M834.5 24 L838 20.6 L834.5 19.2 L831 20.6 Z"/><path d="M827 18.5 L829 20.8 L833 15.5" stroke="#505050" stroke-width="1.3" fill="none"/></g>
<path d="M845 16 h6 l-3 3.2 z" fill="#000" class="ic"/>
<rect x="856" y="4" width="1" height="25" fill="#a0a0a0" />
<rect x="857" y="4" width="1" height="25" fill="#ffffff" />
<rect x="860" y="7" width="3" height="1" fill="#a0a0a0" />
<rect x="860" y="9" width="3" height="1" fill="#a0a0a0" />
<rect x="860" y="11" width="3" height="1" fill="#a0a0a0" />
<rect x="860" y="13" width="3" height="1" fill="#a0a0a0" />
<rect x="860" y="15" width="3" height="1" fill="#a0a0a0" />
<rect x="860" y="17" width="3" height="1" fill="#a0a0a0" />
<rect x="860" y="19" width="3" height="1" fill="#a0a0a0" />
<rect x="860" y="21" width="3" height="1" fill="#a0a0a0" />
<rect x="860" y="23" width="3" height="1" fill="#a0a0a0" />
<rect x="860" y="25" width="3" height="1" fill="#a0a0a0" />
<text class="tf" x="878" y="21.3" text-anchor="middle">M1</text>
<text class="tf" x="906" y="21.3" text-anchor="middle">M5</text>
<text class="tf" x="934.4" y="21.3" text-anchor="middle">M15</text>
<text class="tf" x="962.5" y="21.3" text-anchor="middle">M30</text>
<text class="tf" x="990.4" y="21.3" text-anchor="middle">H1</text>
<rect x="1007" y="6" width="24" height="21" fill="url(#dither)" />
<rect x="1006" y="5" width="25" height="1" fill="#a0a0a0" />
<rect x="1006" y="5" width="1" height="22" fill="#a0a0a0" />
<rect x="1006" y="27" width="26" height="1" fill="#ffffff" />
<rect x="1031" y="5" width="1" height="23" fill="#ffffff" />
<text class="tf" x="1017.7" y="21.3" text-anchor="middle">H4</text>
<text class="tf" x="1046.3" y="21.3" text-anchor="middle">D1</text>
<text class="tf" x="1075" y="21.3" text-anchor="middle">W1</text>
<text class="tf" x="1102" y="21.3" text-anchor="middle">MN</text>
<rect x="1117" y="4" width="1" height="25" fill="#a0a0a0" />
<rect x="1118" y="4" width="1" height="25" fill="#ffffff" />
<g class="ic"><path d="M1584.6 18 L1580.3 22.3" stroke="#2858c8" stroke-width="2.4"/><circle cx="1587.6" cy="14.4" r="4" fill="#f4f6ff" stroke="#2860d8" stroke-width="1.4"/></g>
<g class="ic"><defs><linearGradient id="chg" x1="0" y1="0" x2="0" y2="1"><stop offset="0" stop-color="#ffffff"/><stop offset="0.5" stop-color="#f6f6f8"/><stop offset="1" stop-color="#d4d4e0"/></linearGradient></defs><path d="M1621.2 18 l2.6 2.8 l-0.4 -3.4 z" fill="#5c5c5c"/><ellipse cx="1620" cy="14" rx="6.5" ry="4.8" fill="url(#chg)" stroke="#8c8c8c" stroke-width="1"/><path d="M1610.2 21.2 l-2.2 2.8 l0.2 -3.6 z" fill="#5c5c5c"/><ellipse cx="1611.3" cy="18" rx="5" ry="3.9" fill="url(#chg)" stroke="#8c8c8c" stroke-width="1"/></g>
</g>
</svg></body></html>
